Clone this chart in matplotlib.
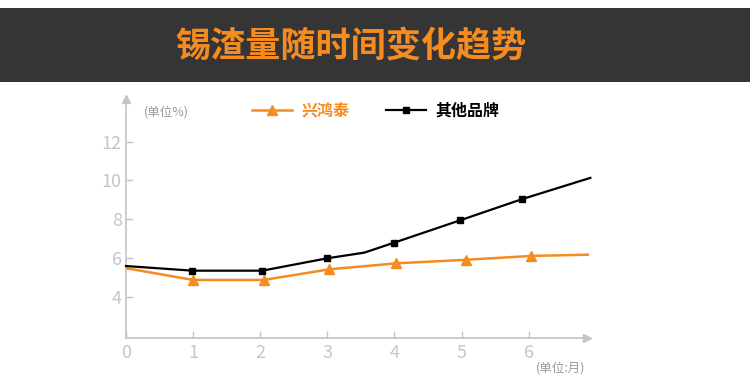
import matplotlib
matplotlib.use('Agg')
import matplotlib.pyplot as plt
from matplotlib.patches import Rectangle

plt.rcParams['font.family'] = ['Noto Sans CJK SC', 'DejaVu Sans']

# 数据
title = '锡渣量随时间变化趋势'
series_names = ['兴鸿泰', '其他品牌']
orange_x = [0, 1, 2.05, 3.03, 4.03, 5.06, 6.03, 6.95]
orange_y = [5.47, 4.86, 4.86, 5.41, 5.72, 5.90, 6.10, 6.17]
orange_marks = [1, 2, 3, 4, 5, 6]
black_x = [0, 0.99, 2.03, 3.0, 3.55, 4.0, 4.98, 5.9, 6.92]
black_y = [5.58, 5.34, 5.34, 5.98, 6.27, 6.79, 7.94, 9.03, 10.13]
black_marks = [1, 2, 3, 5, 6, 7]
x_ticks = [0, 1, 2, 3, 4, 5, 6]
y_ticks = [4, 6, 8, 10, 12]

ORANGE = '#F68B1F'
GREY = '#c4c4c4'

fig = plt.figure(figsize=(7.5, 3.75), dpi=100)

# 顶部深色标题栏
fig.patches.append(Rectangle((0, 1 - 82 / 375), 1, 74 / 375, transform=fig.transFigure,
                             facecolor='#353535', edgecolor='none', zorder=0))
fig.text(351 / 750, 1 - 46 / 375, title, color=ORANGE, fontsize=25.3, fontweight='bold',
         ha='center', va='center')

ax = fig.add_axes([126 / 750, 1 - 338.3 / 375, 463 / 750, 239.3 / 375])
ax.set_xlim(0, 6.9)
ax.set_ylim(1.85, 14.2)

l1, = ax.plot(orange_x, orange_y, color=ORANGE, lw=1.8, marker='^', markersize=7,
              markevery=orange_marks, label=series_names[0], zorder=3)
l2, = ax.plot(black_x, black_y, color='black', lw=1.6, marker='s', markersize=5,
              markevery=black_marks, label=series_names[1], zorder=4, clip_on=False)

for s in ['top', 'right']:
    ax.spines[s].set_visible(False)
for s in ['left', 'bottom']:
    ax.spines[s].set_color(GREY)
    ax.spines[s].set_linewidth(1.2)
ax.spines['left'].set_bounds(1.85, 14.0)

# 坐标轴箭头
ax.plot([0], [1.0], marker='^', color=GREY, markersize=6, transform=ax.transAxes, clip_on=False)
ax.plot([0.995], [0], marker='>', color=GREY, markersize=6, transform=ax.transAxes, clip_on=False)

ax.set_xticks(x_ticks)
ax.set_yticks(y_ticks)
ax.tick_params(direction='in', length=5, width=1, color=GREY, labelcolor='#c6c6c6', labelsize=13)
ax.tick_params(axis='x', pad=4)
ax.tick_params(axis='y', pad=3)

fig.text(144 / 750, 1 - 112 / 375, '(单位%)', color='#9a9a9a', fontsize=9, va='center')
fig.text(536 / 750, 1 - 368 / 375, '(单位:月)', color='#9a9a9a', fontsize=9, va='center')

leg = fig.legend(handles=[l1, l2], loc='center left', bbox_to_anchor=(252 / 750, 1 - 111 / 375),
                 ncol=2, frameon=False, fontsize=11.5, handlelength=2.5, handletextpad=0.6,
                 columnspacing=2.3, borderpad=0, borderaxespad=0)
for t, c in zip(leg.get_texts(), [ORANGE, 'black']):
    t.set_color(c)
    t.set_fontweight('bold')

fig.savefig('out.png', dpi=100)
